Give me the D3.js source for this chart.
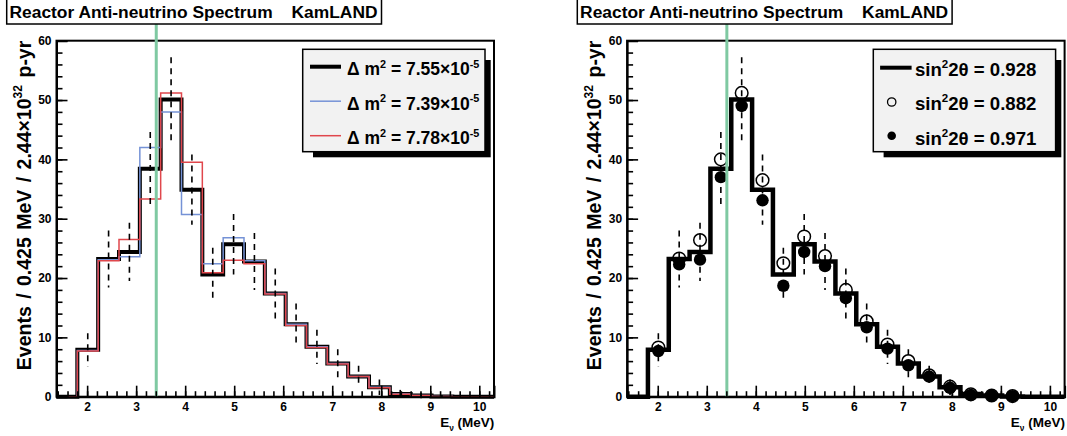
<!DOCTYPE html>
<html>
<head>
<meta charset="utf-8">
<script src="https://cdn.jsdelivr.net/npm/d3@7"></script>
<style>
  html, body { margin: 0; padding: 0; background: #fff; }
  svg { display: block; }
  text { font-family: "Liberation Sans", Arial, Helvetica, sans-serif; font-weight: bold; fill: #000; }
</style>
</head>
<body>
<svg id="chart" width="1067" height="436"></svg>
<script>
// Energy bin edges (MeV), 0.425 MeV wide
const binEdges = [1.375, 1.8, 2.225, 2.65, 3.075, 3.5, 3.925, 4.35, 4.775, 5.2, 5.625,
                  6.05, 6.475, 6.9, 7.325, 7.75, 8.175, 8.6, 9.025, 9.45, 9.875, 10.3];

// Best fit spectrum (Δm² = 7.55e-5, sin²2θ = 0.928)
const bestFit = [0, 7.9, 23.2, 24.4, 38.4, 50.1, 34.9, 20.6, 25.7, 22.8, 17.4,
                 12.2, 8.4, 5.6, 3.4, 1.6, 0.45, 0.2, 0.05, 0, 0];
// Statistical error on each bin
const bestErr = [0, 2.8, 4.8, 4.9, 6.2, 7.1, 5.9, 4.5, 5.1, 4.8, 4.2,
                 3.5, 2.9, 2.4, 1.8, 1.3, 0.7, 0.45, 0.25, 0, 0];
// Δm² = 7.39e-5
const dmLow = [0, 7.8, 23.1, 23.6, 42.0, 48.0, 30.7, 22.4, 26.8, 22.9, 17.4,
               12.2, 8.4, 5.6, 3.4, 1.6, 0.45, 0.2, 0.05, 0, 0];
// Δm² = 7.78e-5
const dmHigh = [0, 7.7, 22.9, 26.5, 33.3, 51.2, 39.5, 20.9, 23.0, 22.4, 17.3,
                12.0, 8.3, 5.5, 3.4, 1.5, 0.4, 0.2, 0.05, 0, 0];
// sin²2θ = 0.882
const sinLow = [0, 8.3, 23.3, 26.4, 40.0, 51.2, 36.5, 22.5, 27.0, 23.7, 18.0,
                12.7, 8.8, 6.0, 3.6, 1.7, 0.4, 0.2, 0.1, 0, 0];
// sin²2θ = 0.971
const sinHigh = [0, 7.7, 22.3, 23.1, 37.0, 49.0, 33.1, 18.7, 24.4, 22.0, 16.6,
                 11.7, 8.1, 5.3, 3.4, 1.5, 0.3, 0.2, 0.1, 0, 0];

const xTickLabels = [2, 3, 4, 5, 6, 7, 8, 9, 10];
const yTickLabels = [0, 10, 20, 30, 40, 50, 60];
const thresholdE = 3.41;   // green marker line (MeV)

const dmLegend = ["7.55", "7.39", "7.78"];
const sinLegend = ["0.928", "0.882", "0.971"];

const BLUE = "#7592d6", RED = "#e0474c", GREEN = "#7fc9a2";

const svg = d3.select("#chart");
const x = d3.scaleLinear().domain([binEdges[0], binEdges[binEdges.length - 1]]).range([56.5, 494]);
const y = d3.scaleLinear().domain([0, 60]).range([396.7, 40.7]);

const binCenters = binEdges.slice(0, -1).map((e, i) => (e + binEdges[i + 1]) / 2);

function stepPoints(vals) {
  const pts = [];
  vals.forEach((v, i) => { pts.push([binEdges[i], v]); pts.push([binEdges[i + 1], v]); });
  return pts;
}
const line = d3.line().x(d => x(d[0])).y(d => y(d[1]));

// write text made of normal / superscript / subscript pieces
function rich(textSel, parts, fs) {
  textSel.attr("font-size", fs);
  let shift = 0;
  parts.forEach(p => {
    const target = p.sup ? -fs * 0.42 : p.sub ? fs * 0.28 : 0;
    const ts = textSel.append("tspan").text(p.t).attr("dy", target - shift);
    if (p.sup || p.sub) ts.attr("font-size", fs * 0.62);
    shift = target;
  });
  return textSel;
}

function drawPanel(g, kind) {
  // title box
  const tb = g.append("g");
  const tbRect = tb.append("rect").attr("x", 6.7).attr("y", -1).attr("height", 25)
    .attr("fill", "#fff").attr("stroke", "#000").attr("stroke-width", 1.5);
  const tt = tb.append("text").attr("y", 17.6).attr("font-size", 17.4);
  tt.append("tspan").attr("x", 9.5).text("Reactor Anti-neutrino Spectrum");
  tt.append("tspan").attr("x", 291.5).text("KamLAND");

  // axes frame
  g.append("rect").attr("x", x.range()[0]).attr("y", y.range()[1])
    .attr("width", x.range()[1] - x.range()[0]).attr("height", y.range()[0] - y.range()[1])
    .attr("fill", "none").attr("stroke", "#000").attr("stroke-width", 2);

  const plot = g.append("g");
  if (kind === "dm") {
    plot.append("path").attr("d", line(stepPoints(bestFit))).attr("fill", "none")
      .attr("stroke", "#000").attr("stroke-width", 4);
    plot.append("path").attr("d", line(stepPoints(dmLow))).attr("fill", "none")
      .attr("stroke", BLUE).attr("stroke-width", 1.5);
    plot.append("path").attr("d", line(stepPoints(dmHigh))).attr("fill", "none")
      .attr("stroke", RED).attr("stroke-width", 1.5);
  } else {
    plot.append("path").attr("d", line(stepPoints(bestFit))).attr("fill", "none")
      .attr("stroke", "#000").attr("stroke-width", 4.5);
  }
  // dashed error bars
  binCenters.forEach((c, i) => {
    if (bestErr[i] <= 0) return;
    plot.append("line").attr("x1", x(c)).attr("x2", x(c))
      .attr("y1", y(bestFit[i] + bestErr[i])).attr("y2", y(bestFit[i] - bestErr[i]))
      .attr("stroke", "#000").attr("stroke-width", 1.6).attr("stroke-dasharray", "6,5");
  });
  if (kind === "sin") {
    binCenters.forEach((c, i) => {
      if (sinLow[i] <= 0) return;
      plot.append("circle").attr("cx", x(c)).attr("cy", y(sinLow[i])).attr("r", 6.3)
        .attr("fill", "none").attr("stroke", "#000").attr("stroke-width", 1.5);
    });
    binCenters.forEach((c, i) => {
      if (sinHigh[i] <= 0) return;
      plot.append("circle").attr("cx", x(c)).attr("cy", y(sinHigh[i])).attr("r", 6.2)
        .attr("fill", "#000");
    });
  }

  // green marker line
  g.append("line").attr("x1", x(thresholdE)).attr("x2", x(thresholdE))
    .attr("y1", 0).attr("y2", y(0)).attr("stroke", GREEN).attr("stroke-width", 3);
  // title box sits on top of the marker line
  tb.raise();
  tbRect.attr("width", tt.node().getBBox().x + tt.node().getBBox().width + 4 - 6.7);

  // axes: minor ticks
  g.append("g").attr("transform", `translate(0,${y(0)})`)
    .call(d3.axisBottom(x).tickValues(x.ticks(45)).tickSize(-5.5).tickFormat(""))
    .call(a => a.select(".domain").remove())
    .selectAll("line").attr("stroke-width", 1.6);
  g.append("g").attr("transform", `translate(${x.range()[0]},0)`)
    .call(d3.axisLeft(y).tickValues(y.ticks(30)).tickSize(-6).tickFormat(""))
    .call(a => a.select(".domain").remove())
    .selectAll("line").attr("stroke-width", 1.6);
  // major ticks and labels
  const xa = g.append("g").attr("transform", `translate(0,${y(0)})`)
    .call(d3.axisBottom(x).tickValues(xTickLabels).tickSize(-11).tickPadding(6).tickFormat(d3.format("d")));
  xa.select(".domain").attr("stroke-width", 2);
  xa.selectAll("line").attr("stroke-width", 1.6);
  xa.selectAll("text").attr("font-size", 12).attr("font-family", null);
  const ya = g.append("g").attr("transform", `translate(${x.range()[0]},0)`)
    .call(d3.axisLeft(y).tickValues(yTickLabels).tickSize(-11).tickPadding(5).tickFormat(d3.format("d")));
  ya.select(".domain").attr("stroke-width", 2);
  ya.selectAll("line").attr("stroke-width", 1.6);
  ya.selectAll("text").attr("font-size", 12).attr("font-family", null);

  // axis titles
  rich(g.append("text").attr("text-anchor", "end").attr("x", 494.3).attr("y", 427),
    [{ t: "E" }, { t: "ν", sub: true }, { t: " (MeV)" }], 13.5);
  rich(g.append("text").attr("text-anchor", "end").attr("transform", "rotate(-90)")
      .attr("x", -40.7).attr("y", 30.5).attr("word-spacing", 2),
    [{ t: "Events / 0.425 MeV / 2.44×10" }, { t: "32", sup: true }, { t: " p-yr" }], 19.5);

  // legend
  const lg = g.append("g");
  lg.append("rect").attr("x", 313).attr("y", 60).attr("width", 177.7).attr("height", 97.3).attr("fill", "#000");
  lg.append("rect").attr("x", 302.7).attr("y", 49.3).attr("width", 182.3).attr("height", 102.4)
    .attr("fill", "#f2f2f2").attr("stroke", "#000").attr("stroke-width", 1.5);
  const rowY = [66.7, 101.2, 135.7];
  if (kind === "dm") {
    const cols = ["#000", BLUE, RED], widths = [4, 1.5, 1.5];
    dmLegend.forEach((v, i) => {
      lg.append("line").attr("x1", 310).attr("x2", 341).attr("y1", rowY[i]).attr("y2", rowY[i])
        .attr("stroke", cols[i]).attr("stroke-width", widths[i]);
      rich(lg.append("text").attr("x", 347).attr("y", rowY[i] + 8.6),
        [{ t: "Δ m" }, { t: "2", sup: true }, { t: " = " + v + "×10" }, { t: "-5", sup: true }], 17.5);
    });
  } else {
    lg.append("line").attr("x1", 309.5).attr("x2", 341).attr("y1", rowY[0] + 1).attr("y2", rowY[0] + 1)
      .attr("stroke", "#000").attr("stroke-width", 4);
    lg.append("circle").attr("cx", 321.1).attr("cy", rowY[1] + 0.8).attr("r", 4.2)
      .attr("fill", "none").attr("stroke", "#000").attr("stroke-width", 1.3);
    lg.append("circle").attr("cx", 321.1).attr("cy", rowY[2]).attr("r", 4.3).attr("fill", "#000");
    sinLegend.forEach((v, i) => {
      rich(lg.append("text").attr("x", 344.4).attr("y", rowY[i] + 9),
        [{ t: "sin" }, { t: "2", sup: true }, { t: "2θ = " + v }], 18.6);
    });
  }
}

drawPanel(svg.append("g"), "dm");
drawPanel(svg.append("g").attr("transform", "translate(570.6,0)"), "sin");
</script>
</body>
</html>
